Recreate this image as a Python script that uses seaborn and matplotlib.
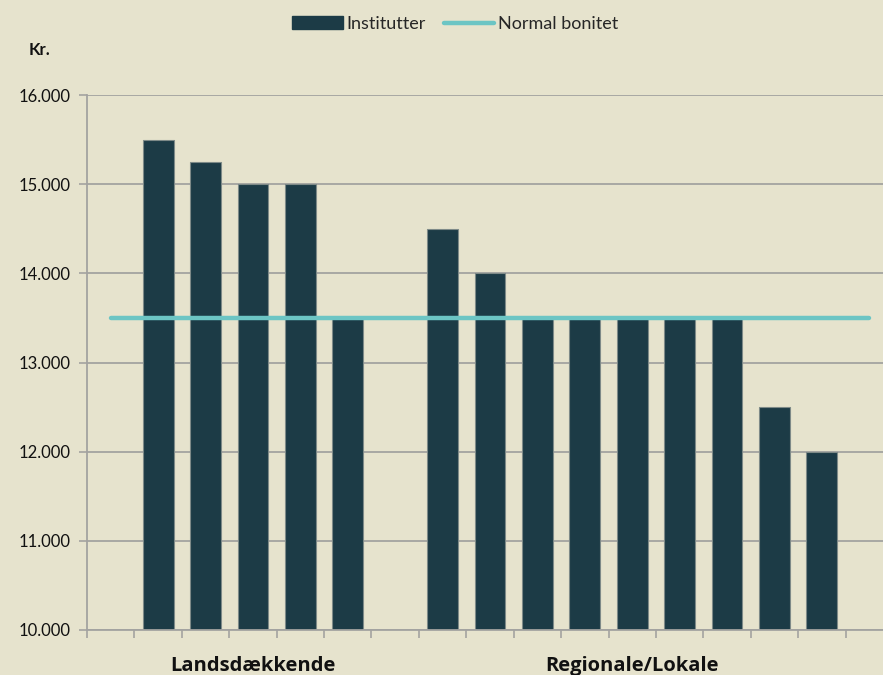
import matplotlib
matplotlib.use("Agg")
import matplotlib.pyplot as plt
import seaborn as sns
import numpy as np
import pandas as pd
from matplotlib.patches import Patch
from matplotlib.lines import Line2D

# Data
slots = [f"s{i}" for i in range(17)]
institutter = [np.nan, 15500, 15250, 15000, 15000, 13500, np.nan,
               14500, 14000, 13500, 13500, 13500, 13500, 13500, 12500, 12000, np.nan]
normal_bonitet = [13500] * 17
groups = ["Landsdækkende", "Regionale/Lokale"]
group_centers = [3, 11]
yticks = [10000, 11000, 12000, 13000, 14000, 15000, 16000]
ytick_labels = ["10.000", "11.000", "12.000", "13.000", "14.000", "15.000", "16.000"]

bg = "#E6E3CD"
bar_color = "#1C3B46"
line_color = "#6CC5C4"
grid_color = "#A3A3A0"

sns.set_theme(style="white")
plt.rcParams["font.family"] = ["Lato", "DejaVu Sans"]

fig = plt.figure(figsize=(8.83, 6.75), dpi=100, facecolor=bg)
ax = fig.add_axes([87/883, 1 - 630/675, (893 - 87)/883, (630 - 95)/675])
ax.set_facecolor(bg)

df = pd.DataFrame({"slot": slots, "Institutter": institutter, "Normal": normal_bonitet})
sns.barplot(data=df, x="slot", y="Institutter", order=slots, color=bar_color,
            saturation=1, width=0.65, edgecolor="#7E8A88", linewidth=0.8, ax=ax, zorder=2)
sns.lineplot(x=np.arange(len(slots)), y=df["Normal"], color=line_color, linewidth=3.2,
             ax=ax, zorder=3, solid_capstyle="round")

ax.set_xlim(-0.5, 16.5)
ax.set_ylim(10000, 16000)
ax.set_yticks(yticks)
ax.set_yticklabels(ytick_labels, fontsize=12, color="#111111")
ax.yaxis.grid(True, color=grid_color, linewidth=1.3, zorder=0)
ax.set_axisbelow(True)

ax.set_xticks(np.arange(-0.5, 16.0, 1.0))
ax.set_xticklabels([])
ax.tick_params(axis="x", direction="out", length=6, width=1.2, color=grid_color, bottom=True)
ax.tick_params(axis="y", direction="out", length=6, width=1.2, color=grid_color, left=True, pad=6)

for s in ["top", "right"]:
    ax.spines[s].set_visible(False)
for s in ["left", "bottom"]:
    ax.spines[s].set_color(grid_color)
    ax.spines[s].set_linewidth(1.3)

ax.set_xlabel("")
ax.set_ylabel("")

for g, c in zip(groups, group_centers):
    ax.text(c, -0.068, g, transform=ax.get_xaxis_transform(), ha="center", va="center",
            fontsize=14.5, fontweight="bold", color="#111111", family=["Open Sans", "DejaVu Sans"])

fig.text(40/883, 1 - 50/675, "Kr.", fontsize=12, fontweight="bold", ha="center", va="center",
         color="#111111")

handles = [Patch(facecolor=bar_color, edgecolor=bar_color),
           Line2D([0], [0], color=line_color, linewidth=3.2)]
fig.legend(handles, ["Institutter", "Normal bonitet"], loc="center", bbox_to_anchor=(455/883, 1 - 24/675),
           ncol=2, frameon=False, fontsize=13, handlelength=2.8, handletextpad=0.2, columnspacing=1.0)

fig.savefig("out.png", dpi=100, facecolor=bg)
